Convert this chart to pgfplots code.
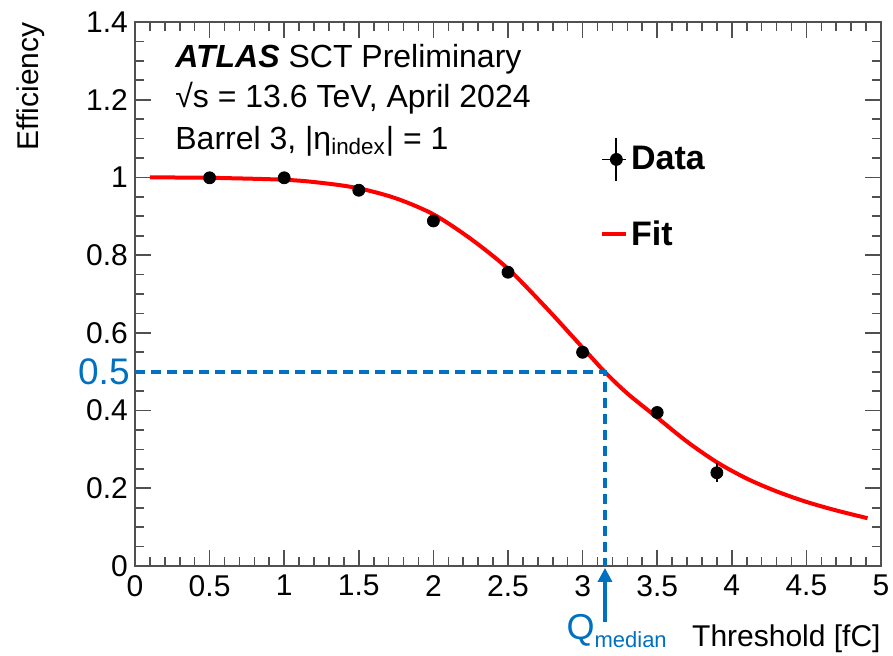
\documentclass[border=0pt]{standalone}
\usepackage{pgfplots}
\pgfplotsset{compat=1.18}
\usepackage{fontspec}
\setmainfont{Liberation Sans}
\usetikzlibrary{arrows.meta}
\definecolor{annblue}{RGB}{0,112,192}
\definecolor{axgray}{RGB}{80,80,80}
\begin{document}
\begin{tikzpicture}
\begin{axis}[
  scale only axis,
  width=373pt, height=272pt,
  xmin=0, xmax=5, ymin=0, ymax=1.4,
  xtick={0,0.5,1,1.5,2,2.5,3,3.5,4,4.5,5},
  ytick={0,0.2,0.4,0.6,0.8,1,1.2,1.4},
  minor x tick num=4,
  minor y tick num=3,
  tick align=inside,
  major tick length=8pt,
  minor tick length=4.5pt,
  axis line style={axgray, line width=0.8pt},
  tick style={axgray, line width=0.8pt},
  /pgf/number format/assume math mode=true,
  ticklabel style={font=\fontsize{15}{17}\selectfont},
  xticklabel style={yshift=-1pt},
  xlabel={Threshold [fC]},
  xlabel style={at={(rel axis cs:1,0)}, anchor=north east, yshift=-29pt, inner sep=0pt, font=\fontsize{15}{18}\selectfont},
  ylabel={Efficiency},
  ylabel style={at={(rel axis cs:0,1)}, anchor=south east, yshift=45pt, inner sep=0pt, font=\fontsize{15}{18}\selectfont},
  clip=false,
  reverse legend,
  legend cell align=left,
  legend style={draw=none, fill=none, at={(axis cs:3.115,1.104)}, anchor=north west,
    font=\fontsize{17}{20}\selectfont\bfseries, row sep=18pt,
    inner sep=0pt, nodes={inner sep=1.5pt}},
]
% fit curve
\addplot[red, line width=2pt, smooth,
  legend image code/.code={\draw[red, line width=2pt] (0cm,0cm) -- (0.42cm,0cm);}]
  coordinates {
  (0.10,1.000) (0.50,0.999) (1.00,0.994) (1.25,0.986) (1.50,0.972)
  (1.75,0.946) (2.00,0.905) (2.25,0.842) (2.50,0.765) (2.75,0.667)
  (3.00,0.562) (3.15,0.499) (3.30,0.444) (3.50,0.382) (3.70,0.320)
  (3.90,0.267) (4.10,0.225) (4.30,0.192) (4.50,0.165) (4.70,0.143)
  (4.91,0.123)
};
% measured efficiencies
\addplot[black, only marks, mark=*, mark size=3pt,
  error bars/.cd, y dir=both, y explicit,
  error bar style={line width=1pt}, error mark=none]
  coordinates {
    (0.5,0.999) +- (0,0.005)
    (1.0,0.999) +- (0,0.005)
    (1.5,0.967) +- (0,0.008)
    (2.0,0.888) +- (0,0.010)
    (2.5,0.756) +- (0,0.012)
    (3.0,0.550) +- (0,0.014)
    (3.5,0.395) +- (0,0.015)
    (3.9,0.240) +- (0,0.025)
  };
\pgfplotsset{every axis plot post/.append style={}}
% median marker
\addplot[annblue, line width=2pt, dash pattern=on 5pt off 3pt, forget plot]
  coordinates {(0,0.5) (3.15,0.5) (3.15,0)};
\draw[annblue, line width=1.6pt, -{Triangle[length=7pt, width=7pt]}]
  (axis cs:3.15,-0.145) -- (axis cs:3.15,-0.005);
\node[annblue, anchor=east, inner sep=0pt, xshift=-2.5pt, font=\fontsize{18.5}{20}\selectfont]
  at (axis cs:0,0.5) {0.5};
\node[annblue, anchor=base west, inner sep=0pt]
  at (axis cs:2.89,-0.19) {\fontsize{18}{20}\selectfont Q\raisebox{-4pt}{\fontsize{11}{12}\selectfont median}};
% labels
\node[anchor=base west, inner sep=0pt, font=\fontsize{16}{18}\selectfont]
  at (axis cs:0.268,1.284) {\textbf{\textit{ATLAS}} SCT Preliminary};
\node[anchor=base west, inner sep=0pt, font=\fontsize{16}{18}\selectfont]
  at (axis cs:0.268,1.181) {√s = 13.6 TeV, April 2024};
\node[anchor=base west, inner sep=0pt, font=\fontsize{16}{18}\selectfont]
  at (axis cs:0.268,1.073) {Barrel 3, |η\textsubscript{index}| = 1};
\coordinate (bl) at (rel axis cs:0,0);
\coordinate (tr) at (rel axis cs:1,1);
\addlegendimage{black, legend image code/.code={
  \path (0cm,0cm) -- (0.42cm,0cm);
  \draw[black, line width=1pt] (0.25cm,-0.37cm) -- (0.25cm,0.37cm);
  \fill[black] (0.25cm,0cm) circle (3pt);}}
\legend{Fit, ,Data}
\end{axis}
\pgfresetboundingbox
\path[use as bounding box] ([xshift=-67.5pt,yshift=-45pt]bl) rectangle ([xshift=6pt,yshift=11pt]tr);
\end{tikzpicture}
\end{document}
